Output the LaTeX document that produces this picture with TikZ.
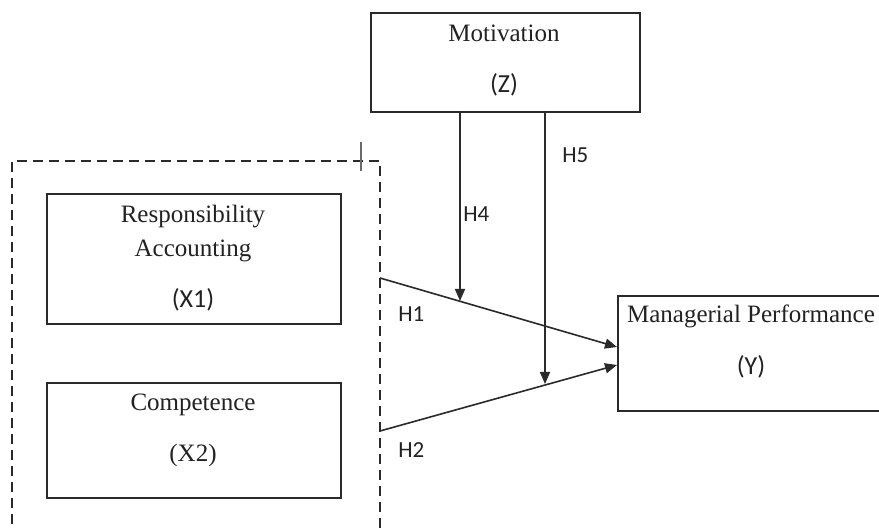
\documentclass[tikz,border=0pt]{standalone}
\usepackage{fontspec}
\setmainfont{Liberation Serif}
\newfontfamily\lblfont{Carlito}
\usetikzlibrary{arrows.meta}
\definecolor{linec}{HTML}{2A2A2A}
\definecolor{textc}{HTML}{222222}
\begin{document}
\begin{tikzpicture}[x=0.5pt,y=-0.5pt,
  box/.style={draw=linec, line width=0.9pt, inner sep=0pt, anchor=north west},
  txt/.style={font=\fontsize{12.5}{14}\selectfont, text=textc, inner sep=0pt, anchor=base},
  stxt/.style={font=\lblfont\fontsize{13}{15}\selectfont, text=textc, inner sep=0pt, anchor=base},
  hl/.style={font=\lblfont\fontsize{11.5}{13}\selectfont, text=textc, inner sep=0pt, anchor=base west},
  conn/.style={draw=linec, line width=0.8pt},
  arr/.style={conn, -{Triangle[length=6pt,width=5pt]}},
  grp/.style={draw=linec, line width=0.7pt, dash pattern=on 5pt off 3pt}
]
\path[use as bounding box, clip] (0,0) rectangle (879,529);
\fill[white] (0,0) rectangle (879,529);

% group (dashed, open at the bottom)
\draw[grp] (12,540) -- (12,161) -- (380,161) -- (380,540);
\draw[linec!70, line width=0.6pt] (361,142) -- (361,171);

% boxes
\node[box, minimum width=147pt, minimum height=65pt] (X1) at (46,193) {};
\node[box, minimum width=147pt, minimum height=57.5pt] (X2) at (46,382) {};
\node[box, minimum width=134.5pt, minimum height=49.5pt] (Z) at (370,12) {};
\node[box, minimum width=141.5pt, minimum height=57.5pt] (Y) at (617,295) {};

% box texts
\node[txt] (x1a) at (193,223) {Responsibility};
\node[txt] (x1b) at (193,257) {Accounting};
\node[stxt] (x1c) at (193,308) {(X1)};
\node[txt] (x2a) at (193,411) {Competence};
\node[txt] (x2b) at (193,462) {(X2)};
\node[txt] (za) at (504,42) {Motivation};
\node[stxt] (zb) at (504,93) {(Z)};
\node[txt] (ya) at (751,323) {Managerial Performance};
\node[stxt] (yb) at (751,375) {(Y)};

% connector points
\coordinate (g1) at (380,278);
\coordinate (g2) at (380,431);
\coordinate (y1) at (617,347);
\coordinate (y2) at (617,365);
\coordinate (z1) at (460,111);
\coordinate (z2) at (545,111);
\coordinate (m1) at (460,301);
\coordinate (m2) at (545,384);

% connectors
\draw[arr] (g1) -- (y1);
\draw[arr] (g2) -- (y2);
\draw[arr] (z1) -- (m1);
\draw[arr] (z2) -- (m2);

% labels
\node[hl] (h1) at (398,322) {H1};
\node[hl] (h2) at (398,458) {H2};
\node[hl] (h4) at (463,222) {H4};
\node[hl] (h5) at (562,163) {H5};
\end{tikzpicture}
\end{document}
